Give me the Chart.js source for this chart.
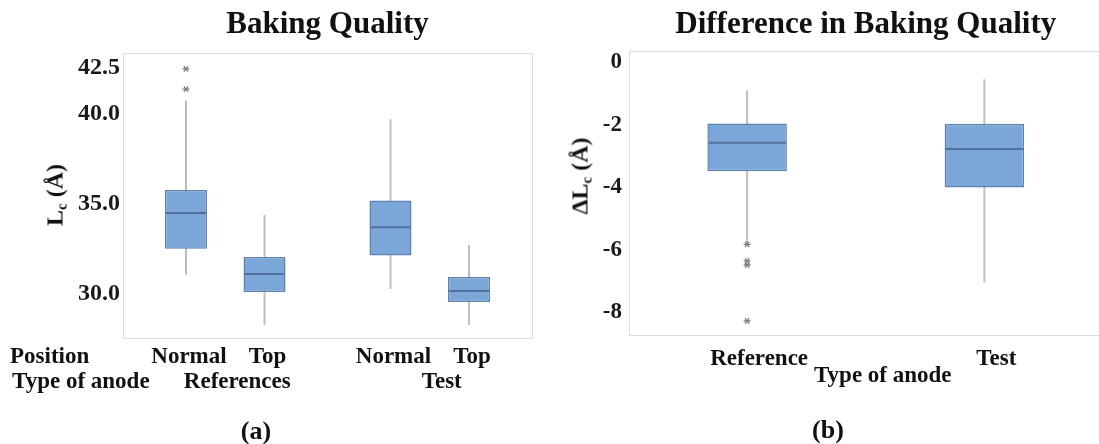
<!DOCTYPE html>
<html>
<head>
<meta charset="utf-8">
<script src="https://cdn.jsdelivr.net/npm/chart.js@4.4.1/dist/chart.umd.min.js"></script>
<style>
    html, body { margin: 0; padding: 0; background: #fff; }
    body { width: 1099px; height: 444px; position: relative; overflow: hidden; }
    canvas { position: absolute; top: 0; }
    #chartA { left: 0; }
    #chartB { left: 560px; }
    .ytitle, .caption {
        position: absolute;
        font-family: 'Liberation Serif', 'Times New Roman', serif;
        font-weight: bold;
        color: #111;
        white-space: nowrap;
        line-height: 1;
    }
    .ytitle { font-size: 24px; transform: translate(-50%, -50%) rotate(-90deg); }
    .ytitle sub { font-size: 15px; vertical-align: -4px; }
    .caption { font-size: 26px; transform: translate(-50%, -50%); }
</style>
</head>
<body>
<canvas id="chartA" width="540" height="444"></canvas>
<canvas id="chartB" width="543" height="444"></canvas>
<div class="ytitle" style="left:56px; top:195px">L<sub>c</sub> (Å)</div>
<div class="ytitle" style="left:581px; top:176px">ΔL<sub>c</sub> (Å)</div>
<div class="caption" style="left:256px; top:431px">(a)</div>
<div class="caption" style="left:828px; top:430px">(b)</div>
<script>
// (a) Baking quality, Lc in Å, one value per anode type
const anodeTypes = ['References', 'Test'];
const normalMin = [31.08, 30.29];
const normalQ1 = [32.51, 32.14];
const normalMedian = [34.49, 33.71];
const normalQ3 = [35.77, 35.18];
const normalMax = [40.71, 39.68];
const normalOutliers = [[41.34, 42.46], []];
const topMin = [28.31, 28.30];
const topQ1 = [30.12, 29.57];
const topMedian = [31.12, 30.18];
const topQ3 = [32.06, 30.95];
const topMax = [34.39, 32.72];
const topOutliers = [[], []];
const lcTicks = [30, 35, 40, 42.5];

// (b) Difference in baking quality, delta Lc in Å
const diffTypes = ['Reference', 'Test'];
const diffMin = [-5.79, -7.04];
const diffQ1 = [-3.48, -4.0];
const diffMedian = [-2.57, -2.77];
const diffQ3 = [-1.95, -1.96];
const diffMax = [-0.89, -0.54];
const diffOutliers = [[-5.82, -6.35, -6.48, -8.27], []];
const diffTicks = [0, -2, -4, -6, -8];

const SERIF = "'Liberation Serif', 'Times New Roman', serif";
const BOX_FILL = '#7aa6d8';
const BOX_EDGE = '#5f81ad';
const MEDIAN = '#52709a';
const WHISKER = '#bdbdbd';
const OUTLIER = '#7d7d7d';

function boxDataset(label, min, q1, median, q3, max, outliers, opts) {
    return Object.assign({
        label: label,
        data: q1.map((v, i) => [v, q3[i]]),
        stats: { min, median, max, outliers },
        backgroundColor: BOX_FILL,
        borderColor: BOX_EDGE,
        borderWidth: 1.5,
        borderSkipped: false,
    }, opts);
}

// whiskers under the boxes, medians and outliers on top
const boxPlot = {
    id: 'boxPlot',
    beforeDatasetsDraw(chart) {
        const { ctx } = chart;
        const y = chart.scales.y;
        ctx.save();
        ctx.strokeStyle = WHISKER;
        ctx.lineWidth = 2;
        chart.data.datasets.forEach((ds, di) => {
            chart.getDatasetMeta(di).data.forEach((bar, i) => {
                ctx.beginPath();
                ctx.moveTo(bar.x, y.getPixelForValue(ds.stats.max[i]));
                ctx.lineTo(bar.x, y.getPixelForValue(ds.stats.min[i]));
                ctx.stroke();
            });
        });
        ctx.restore();
    },
    afterDatasetsDraw(chart) {
        const { ctx } = chart;
        const y = chart.scales.y;
        ctx.save();
        chart.data.datasets.forEach((ds, di) => {
            chart.getDatasetMeta(di).data.forEach((bar, i) => {
                const half = bar.width / 2 - 1;
                const my = y.getPixelForValue(ds.stats.median[i]);
                ctx.strokeStyle = MEDIAN;
                ctx.lineWidth = 2;
                ctx.beginPath();
                ctx.moveTo(bar.x - half, my);
                ctx.lineTo(bar.x + half, my);
                ctx.stroke();

                ctx.strokeStyle = OUTLIER;
                ctx.lineWidth = 1.3;
                ds.stats.outliers[i].forEach((v) => {
                    const py = y.getPixelForValue(v);
                    const r = 3.5;
                    ctx.beginPath();
                    ctx.moveTo(bar.x - r, py);
                    ctx.lineTo(bar.x + r, py);
                    ctx.moveTo(bar.x - r * 0.6, py - r * 0.8);
                    ctx.lineTo(bar.x + r * 0.6, py + r * 0.8);
                    ctx.moveTo(bar.x + r * 0.6, py - r * 0.8);
                    ctx.lineTo(bar.x - r * 0.6, py + r * 0.8);
                    ctx.stroke();
                });
            });
        });
        ctx.restore();
    },
};

const frame = {
    id: 'frame',
    beforeDraw(chart) {
        const { ctx, chartArea: a } = chart;
        ctx.save();
        ctx.strokeStyle = '#dcdcdc';
        ctx.lineWidth = 1;
        ctx.strokeRect(Math.round(a.left) + 0.5, Math.round(a.top) + 0.5,
            Math.round(a.right - a.left), Math.round(a.bottom - a.top));
        ctx.restore();
    },
};

function drawLabel(ctx, text, x, y, align) {
    ctx.textAlign = align || 'center';
    ctx.fillText(text, x, y);
}

function baseOptions(title, ticks, yMin, yMax, yWidth, xHeight, titlePad, tickSize, tickPad, fmt) {
    return {
        responsive: false,
        animation: false,
        layout: { padding: { left: 0, right: 0, top: 0, bottom: 0 } },
        plugins: {
            legend: { display: false },
            tooltip: { enabled: false },
            title: {
                display: true,
                text: title,
                fullSize: false,
                color: '#111',
                font: { family: SERIF, weight: 'bold', size: 31, lineHeight: 1.2 },
                padding: titlePad,
            },
        },
        scales: {
            x: {
                grid: { display: false },
                border: { display: false },
                ticks: { display: false },
                afterFit(s) { s.height = xHeight; },
            },
            y: {
                min: yMin,
                max: yMax,
                grid: { display: false, drawTicks: false },
                border: { display: false },
                afterBuildTicks(s) { s.ticks = ticks.map((v) => ({ value: v })); },
                afterFit(s) { s.width = yWidth; },
                ticks: {
                    color: '#1a1a1a',
                    padding: tickPad,
                    font: { family: SERIF, weight: 'bold', size: tickSize, lineHeight: 1 },
                    callback: fmt,
                },
            },
        },
    };
}

// (a)
const optionsA = baseOptions('Baking Quality', lcTicks, 27.58, 43.33, 123, 106,
    { top: 6, bottom: 10 }, 24, 3, (v) => v.toFixed(1));
optionsA.layout.padding.right = 8;
optionsA.datasets = { bar: { categoryPercentage: 0.768, barPercentage: 0.535 } };

new Chart(document.getElementById('chartA'), {
    type: 'bar',
    data: {
        labels: anodeTypes,
        datasets: [
            boxDataset('Normal', normalMin, normalQ1, normalMedian, normalQ3, normalMax, normalOutliers),
            boxDataset('Top', topMin, topQ1, topMedian, topQ3, topMax, topOutliers),
        ],
    },
    options: optionsA,
    plugins: [frame, boxPlot, {
        id: 'labelsA',
        afterDraw(chart) {
            const { ctx } = chart;
            const x = chart.scales.x;
            ctx.save();
            ctx.fillStyle = '#111';
            ctx.textBaseline = 'middle';
            ctx.font = `bold 23px ${SERIF}`;
            drawLabel(ctx, 'Position', 10, 357, 'left');
            drawLabel(ctx, 'Type of anode', 12, 382, 'left');
            chart.data.datasets.forEach((ds, di) => {
                chart.getDatasetMeta(di).data.forEach((bar) => {
                    drawLabel(ctx, ds.label, bar.x + 3, 357);
                });
            });
            anodeTypes.forEach((name, i) => {
                drawLabel(ctx, name, x.getPixelForValue(i) + 12, 382);
            });
            ctx.restore();
        },
    }],
});

// (b)
const optionsB = baseOptions('Difference in Baking Quality', diffTicks, -8.72, 0.36, 68.5, 109,
    { top: 6, bottom: 8 }, 23, 6.5, (v) => String(v));
optionsB.datasets = { bar: { categoryPercentage: 1, barPercentage: 0.335 } };

new Chart(document.getElementById('chartB'), {
    type: 'bar',
    data: {
        labels: diffTypes,
        datasets: [
            boxDataset('Difference', diffMin, diffQ1, diffMedian, diffQ3, diffMax, diffOutliers),
        ],
    },
    options: optionsB,
    plugins: [frame, boxPlot, {
        id: 'labelsB',
        afterDraw(chart) {
            const { ctx, chartArea } = chart;
            const x = chart.scales.x;
            ctx.save();
            ctx.fillStyle = '#111';
            ctx.textBaseline = 'middle';
            ctx.font = `bold 23px ${SERIF}`;
            diffTypes.forEach((name, i) => {
                drawLabel(ctx, name, x.getPixelForValue(i) + 12, 359);
            });
            drawLabel(ctx, 'Type of anode', (chartArea.left + chartArea.right) / 2 + 17, 376);
            ctx.restore();
        },
    }],
});
</script>
</body>
</html>
